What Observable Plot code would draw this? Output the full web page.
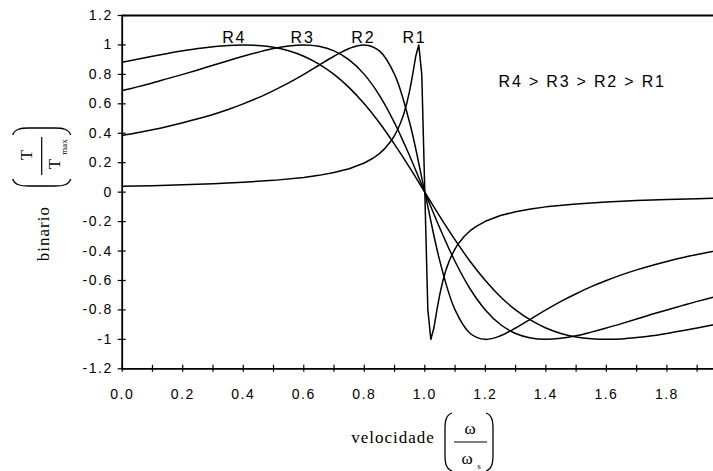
<!DOCTYPE html>
<html>
<head>
<meta charset="utf-8">
<script src="https://cdn.jsdelivr.net/npm/d3@7"></script>
<script src="https://cdn.jsdelivr.net/npm/@observablehq/plot@0.6"></script>
<style>
  html, body { margin: 0; padding: 0; background: #fff; }
  #chart svg { display: block; }
  #chart svg g[aria-label="x-axis tick label"] text,
  #chart svg g[aria-label="y-axis tick label"] text { letter-spacing: 1.5px; }
</style>
</head>
<body>
<div id="chart"></div>
<script>
// ---- data (normalised speed ω/ωs vs torque T/Tmax) ----
const omega = [0,0.05,0.1,0.15,0.2,0.25,0.3,0.35,0.4,0.45,0.5,0.55,0.6,0.65,0.7,0.75,0.8,0.85,0.9,0.95,1.0,
               1.05,1.1,1.15,1.2,1.25,1.3,1.35,1.4,1.45,1.5,1.55,1.6,1.65,1.7,1.75,1.8,1.85,1.9,1.95,2.0];
const R4 = [0.882,0.903,0.923,0.942,0.960,0.976,0.988,0.997,1.000,0.996,0.984,0.960,0.923,0.870,0.800,0.710,0.600,0.471,0.324,0.166,0,
            -0.166,-0.324,-0.471,-0.600,-0.710,-0.800,-0.870,-0.923,-0.960,-0.984,-0.996,-1.000,-0.997,-0.988,-0.976,-0.960,-0.942,-0.923,-0.903,-0.882];
const R3 = [0.690,0.715,0.742,0.771,0.800,0.830,0.862,0.893,0.923,0.951,0.976,0.993,1.000,0.991,0.960,0.899,0.800,0.658,0.471,0.246,0,
            -0.246,-0.471,-0.658,-0.800,-0.899,-0.960,-0.991,-1.000,-0.993,-0.976,-0.951,-0.923,-0.893,-0.862,-0.830,-0.800,-0.771,-0.742,-0.715,-0.690];
const R2 = [0.385,0.403,0.424,0.446,0.471,0.498,0.528,0.562,0.600,0.642,0.690,0.742,0.800,0.862,0.923,0.976,1.000,0.960,0.800,0.471,0,
            -0.471,-0.800,-0.960,-1.000,-0.976,-0.923,-0.862,-0.800,-0.742,-0.690,-0.642,-0.600,-0.562,-0.528,-0.498,-0.471,-0.446,-0.424,-0.403,-0.385];
const r1Omega = [0,0.1,0.2,0.3,0.4,0.5,0.6,0.65,0.7,0.75,0.8,0.83,0.85,0.87,0.89,0.9,0.91,0.92,0.93,0.94,0.95,0.96,0.97,0.98,0.99,1.0,
                 1.01,1.02,1.03,1.04,1.05,1.06,1.07,1.08,1.09,1.1,1.11,1.13,1.15,1.17,1.2,1.25,1.3,1.35,1.4,1.5,1.6,1.7,1.8,1.9,2.0];
const R1 = [0.040,0.044,0.050,0.057,0.067,0.080,0.100,0.114,0.133,0.159,0.198,0.232,0.262,0.301,0.352,0.385,0.424,0.471,0.528,0.600,0.690,0.800,0.923,1.000,0.800,0,
            -0.800,-1.000,-0.923,-0.800,-0.690,-0.600,-0.528,-0.471,-0.424,-0.385,-0.352,-0.301,-0.262,-0.232,-0.198,-0.159,-0.133,-0.114,-0.100,-0.080,-0.067,-0.057,-0.050,-0.044,-0.040];

const curveLabels = ["R4", "R3", "R2", "R1"];
const curveLabelOmega = [0.37, 0.596, 0.797, 0.966];
const curveLabelTorque = [1, 1, 1, 1];
const noteText = ["R4 > R3 > R2 > R1"];
const noteOmega = [1.52];
const noteTorque = [0.75];

const xTicks = [0,0.1,0.2,0.3,0.4,0.5,0.6,0.7,0.8,0.9,1.0,1.1,1.2,1.3,1.4,1.5,1.6,1.7,1.8,1.9];
const xLabelTicks = [0,0.2,0.4,0.6,0.8,1.0,1.2,1.4,1.6,1.8];
const yTicks = [-1.2,-1,-0.8,-0.6,-0.4,-0.2,0,0.2,0.4,0.6,0.8,1,1.2];

// ---- tables ----
const table = [];
[["R4", R4], ["R3", R3], ["R2", R2]].forEach(([name, vals]) => {
  vals.forEach((v, i) => table.push({series: name, omega: omega[i], torque: v}));
});
const r1Table = R1.map((v, i) => ({series: "R1", omega: r1Omega[i], torque: v}));
const labelTable = curveLabels.map((t, i) => ({t, omega: curveLabelOmega[i], torque: curveLabelTorque[i]}));
const noteTable = noteText.map((t, i) => ({t, omega: noteOmega[i], torque: noteTorque[i]}));

const chart = Plot.plot({
  width: 713,
  height: 471,
  marginLeft: 121.7,
  marginRight: 0,
  marginTop: 15,
  marginBottom: 102.7,
  x: {domain: [0, 1.954]},
  y: {domain: [-1.2, 1.2]},
  style: {fontFamily: '"Liberation Sans", Arial, sans-serif', fontSize: "14px", color: "#000", background: "#fff"},
  marks: [
    Plot.axisX({ticks: xLabelTicks, tickFormat: d => d.toFixed(1), tickSize: 0, tickPadding: 20, label: null}),
    Plot.axisX({ticks: xTicks, tickFormat: () => "", tickSize: 7, dy: -3.5, stroke: "#000", strokeWidth: 1.2, label: null}),
    Plot.axisY({ticks: yTicks, tickFormat: d => String(d), tickSize: 0, tickPadding: 9.5, label: null}),
    Plot.axisY({ticks: yTicks, tickFormat: () => "", tickSize: 8, dx: 4, stroke: "#000", strokeWidth: 1.2, label: null}),
    Plot.ruleX([0], {stroke: "#000", strokeWidth: 1.8}),
    Plot.ruleY([-1.2], {stroke: "#000", strokeWidth: 1.8}),
    Plot.ruleY([1.2], {stroke: "#000", strokeWidth: 1.8}),
    Plot.line(table, {x: "omega", y: "torque", z: "series", curve: "catmull-rom", stroke: "#000", strokeWidth: 1.5, clip: true}),
    Plot.line(r1Table, {x: "omega", y: "torque", curve: "linear", stroke: "#000", strokeWidth: 1.5, clip: true}),
    Plot.text(labelTable, {x: "omega", y: "torque", text: "t", dy: -2, lineAnchor: "bottom", textAnchor: "middle", fontSize: 16, fill: "#000"}),
    Plot.text(noteTable, {x: "omega", y: "torque", text: "t", textAnchor: "middle", fontSize: 16, fill: "#000"})
  ]
});
document.getElementById("chart").appendChild(chart);

// letter spacing for the curve labels / note
d3.select(chart).selectAll('g[aria-label="text"] text').attr("letter-spacing", "1.8px");

// ---- axis titles (serif, with fractions) ----
const svg = d3.select(chart);
const serif = '"Liberation Serif", "Times New Roman", serif';
const parenL = "M 7,-29 C 1,-27 0,-21 0,-13 L 0,13 C 0,21 1,27 7,29";
const parenR = "M -7,-29 C -1,-27 0,-21 0,-13 L 0,13 C 0,21 -1,27 -7,29";

// x title
const gx = svg.append("g").attr("font-family", serif).attr("fill", "#000");
gx.append("text").attr("x", 393).attr("y", 437).attr("text-anchor", "middle")
  .attr("dominant-baseline", "central").attr("font-size", 17).attr("letter-spacing", "1px").text("velocidade");
gx.append("text").attr("x", 470).attr("y", 428).attr("text-anchor", "middle")
  .attr("dominant-baseline", "central").attr("font-size", 17).text("ω");
gx.append("line").attr("x1", 454).attr("x2", 487).attr("y1", 442).attr("y2", 442).attr("stroke", "#000").attr("stroke-width", 1.2);
gx.append("text").attr("x", 467).attr("y", 458).attr("text-anchor", "middle")
  .attr("dominant-baseline", "central").attr("font-size", 17).text("ω");
gx.append("text").attr("x", 479).attr("y", 466).attr("text-anchor", "middle")
  .attr("dominant-baseline", "central").attr("font-size", 9).text("s");
gx.append("path").attr("d", parenL).attr("transform", "translate(445,442)").attr("fill", "none").attr("stroke", "#000").attr("stroke-width", 1.3);
gx.append("path").attr("d", parenR).attr("transform", "translate(493,442)").attr("fill", "none").attr("stroke", "#000").attr("stroke-width", 1.3);

// y title (rotated)
const gy = svg.append("g").attr("font-family", serif).attr("fill", "#000")
  .attr("transform", "translate(41.7,156) rotate(-90)");
gy.append("text").attr("x", -77.7).attr("y", 1.3).attr("text-anchor", "middle")
  .attr("dominant-baseline", "central").attr("font-size", 17).attr("letter-spacing", "1px").text("binario");
gy.append("text").attr("x", 1).attr("y", -15.5).attr("text-anchor", "middle")
  .attr("dominant-baseline", "central").attr("font-size", 17).text("T");
gy.append("line").attr("x1", -19).attr("x2", 19).attr("y1", 0).attr("y2", 0).attr("stroke", "#000").attr("stroke-width", 1.2);
gy.append("text").attr("x", -8).attr("y", 12.5).attr("text-anchor", "middle")
  .attr("dominant-baseline", "central").attr("font-size", 17).text("T");
gy.append("text").attr("x", 9).attr("y", 22).attr("text-anchor", "middle")
  .attr("dominant-baseline", "central").attr("font-size", 9).text("max");
gy.append("path").attr("d", parenL).attr("transform", "translate(-30,0)").attr("fill", "none").attr("stroke", "#000").attr("stroke-width", 1.3);
gy.append("path").attr("d", parenR).attr("transform", "translate(28,0)").attr("fill", "none").attr("stroke", "#000").attr("stroke-width", 1.3);
</script>
</body>
</html>
